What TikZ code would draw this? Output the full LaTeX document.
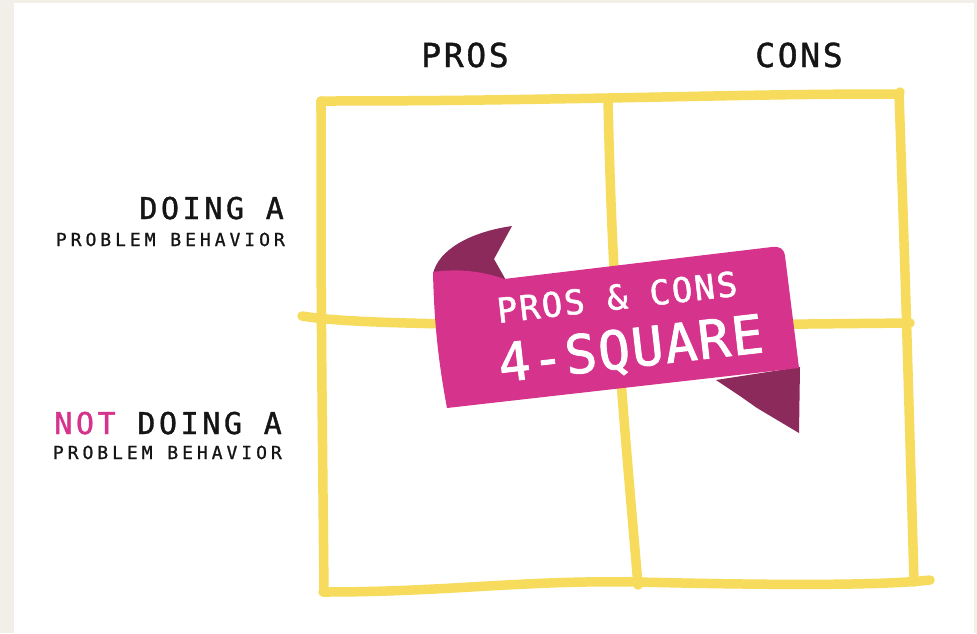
\documentclass[tikz,border=0pt]{standalone}
\usepackage{fontspec}
\newfontfamily\colfont[LetterSpace=8,FakeBold=1.2]{DejaVu Sans Mono}
\newfontfamily\rowfont[LetterSpace=12,FakeBold=1.2]{DejaVu Sans Mono}
\newfontfamily\smallfont[LetterSpace=22,FakeBold=1]{DejaVu Sans Mono}
\newfontfamily\bannerfont[LetterSpace=6,FakeBold=1.5]{DejaVu Sans Mono}
\newfontfamily\bannerbigfont[LetterSpace=3,FakeBold=1.6]{DejaVu Sans Mono}
\definecolor{pagebeige}{HTML}{F2EFE9}
\definecolor{gridyellow}{HTML}{F7DB5C}
\definecolor{ribbonpink}{HTML}{D6338D}
\definecolor{ribbondark}{HTML}{8D2A5C}
\definecolor{inkblack}{HTML}{151515}
\tikzset{
  gridline/.style={draw=gridyellow, line width=9.5pt, line cap=round, line join=round},
  colhead/.style={font=\colfont\fontsize{33}{33}\selectfont, text=inkblack, inner sep=0pt, anchor=base},
  rowhead/.style={font=\rowfont\fontsize{30}{30}\selectfont, text=inkblack, inner sep=0pt, anchor=base east},
  rowsub/.style={font=\smallfont\fontsize{18}{18}\selectfont, text=inkblack, inner sep=0pt, anchor=base east},
  bannertext/.style={text=white, inner sep=0pt, rotate=6.5}
}
\begin{document}
\begin{tikzpicture}[x=1pt, y=-1pt]
  % page and card
  \fill[pagebeige] (0,0) rectangle (977,633);
  \fill[white] (14,3) rectangle (974,633);
  \useasboundingbox (0,0) rectangle (977,633);

  % hand-drawn 2x2 grid
  \draw[gridline] (321,112) -- (321,101) to[out=0,in=181] (608,98) to[out=1,in=180] (899,94) -- (900,92);
  \draw[gridline] (321,101) .. controls (321,300) .. (324,592);
  \draw[gridline] (899,93) .. controls (906,300) .. (914,582);
  \draw[gridline] (608,98) .. controls (612,300) and (624,420) .. (638,585);
  \draw[gridline] (323,592) .. controls (450,592) and (520,580) .. (638,582)
                  .. controls (760,585) and (880,586) .. (930,580);
  \draw[gridline] (302,316) .. controls (340,322) and (400,324) .. (600,326)
                  -- (910,323);

  % ribbon: back folds
  \fill[ribbondark] (433,274) .. controls (438,250) and (470,232) .. (512,226)
                    -- (494,259) -- (507,282) -- (450,290) -- cycle;
  \fill[ribbondark] (716,380) -- (800,367) -- (799,433) -- (757,408)
                    -- (740,396) -- cycle;
  % ribbon: front band
  \fill[ribbonpink] (433,272) .. controls (460,268) and (485,272) .. (504,279)
                    -- (772,247) .. controls (780,246) and (784,249) .. (785,256)
                    -- (799,368) -- (447,408)
                    .. controls (438,360) and (434,320) .. cycle;

  % banner title
  \node[bannertext, font=\bannerfont\fontsize{34}{34}\selectfont] (bannertop) at (617,297) {PROS \& CONS};
  \node[bannertext, font=\bannerbigfont\fontsize{53}{53}\selectfont] (bannerbottom) at (631,351) {4-SQUARE};

  % column headings
  \node[colhead] (pros) at (465,67) {PROS};
  \node[colhead] (cons) at (799,67) {CONS};

  % row headings
  \node[rowhead] (doing) at (284,219) {DOING A};
  \node[rowsub] (doingsub) at (285,246) {PROBLEM BEHAVIOR};
  \node[rowhead] (notdoing) at (282,434) {\textcolor{ribbonpink}{NOT} DOING A};
  \node[rowsub] (notdoingsub) at (282,459) {PROBLEM BEHAVIOR};
\end{tikzpicture}
\end{document}
